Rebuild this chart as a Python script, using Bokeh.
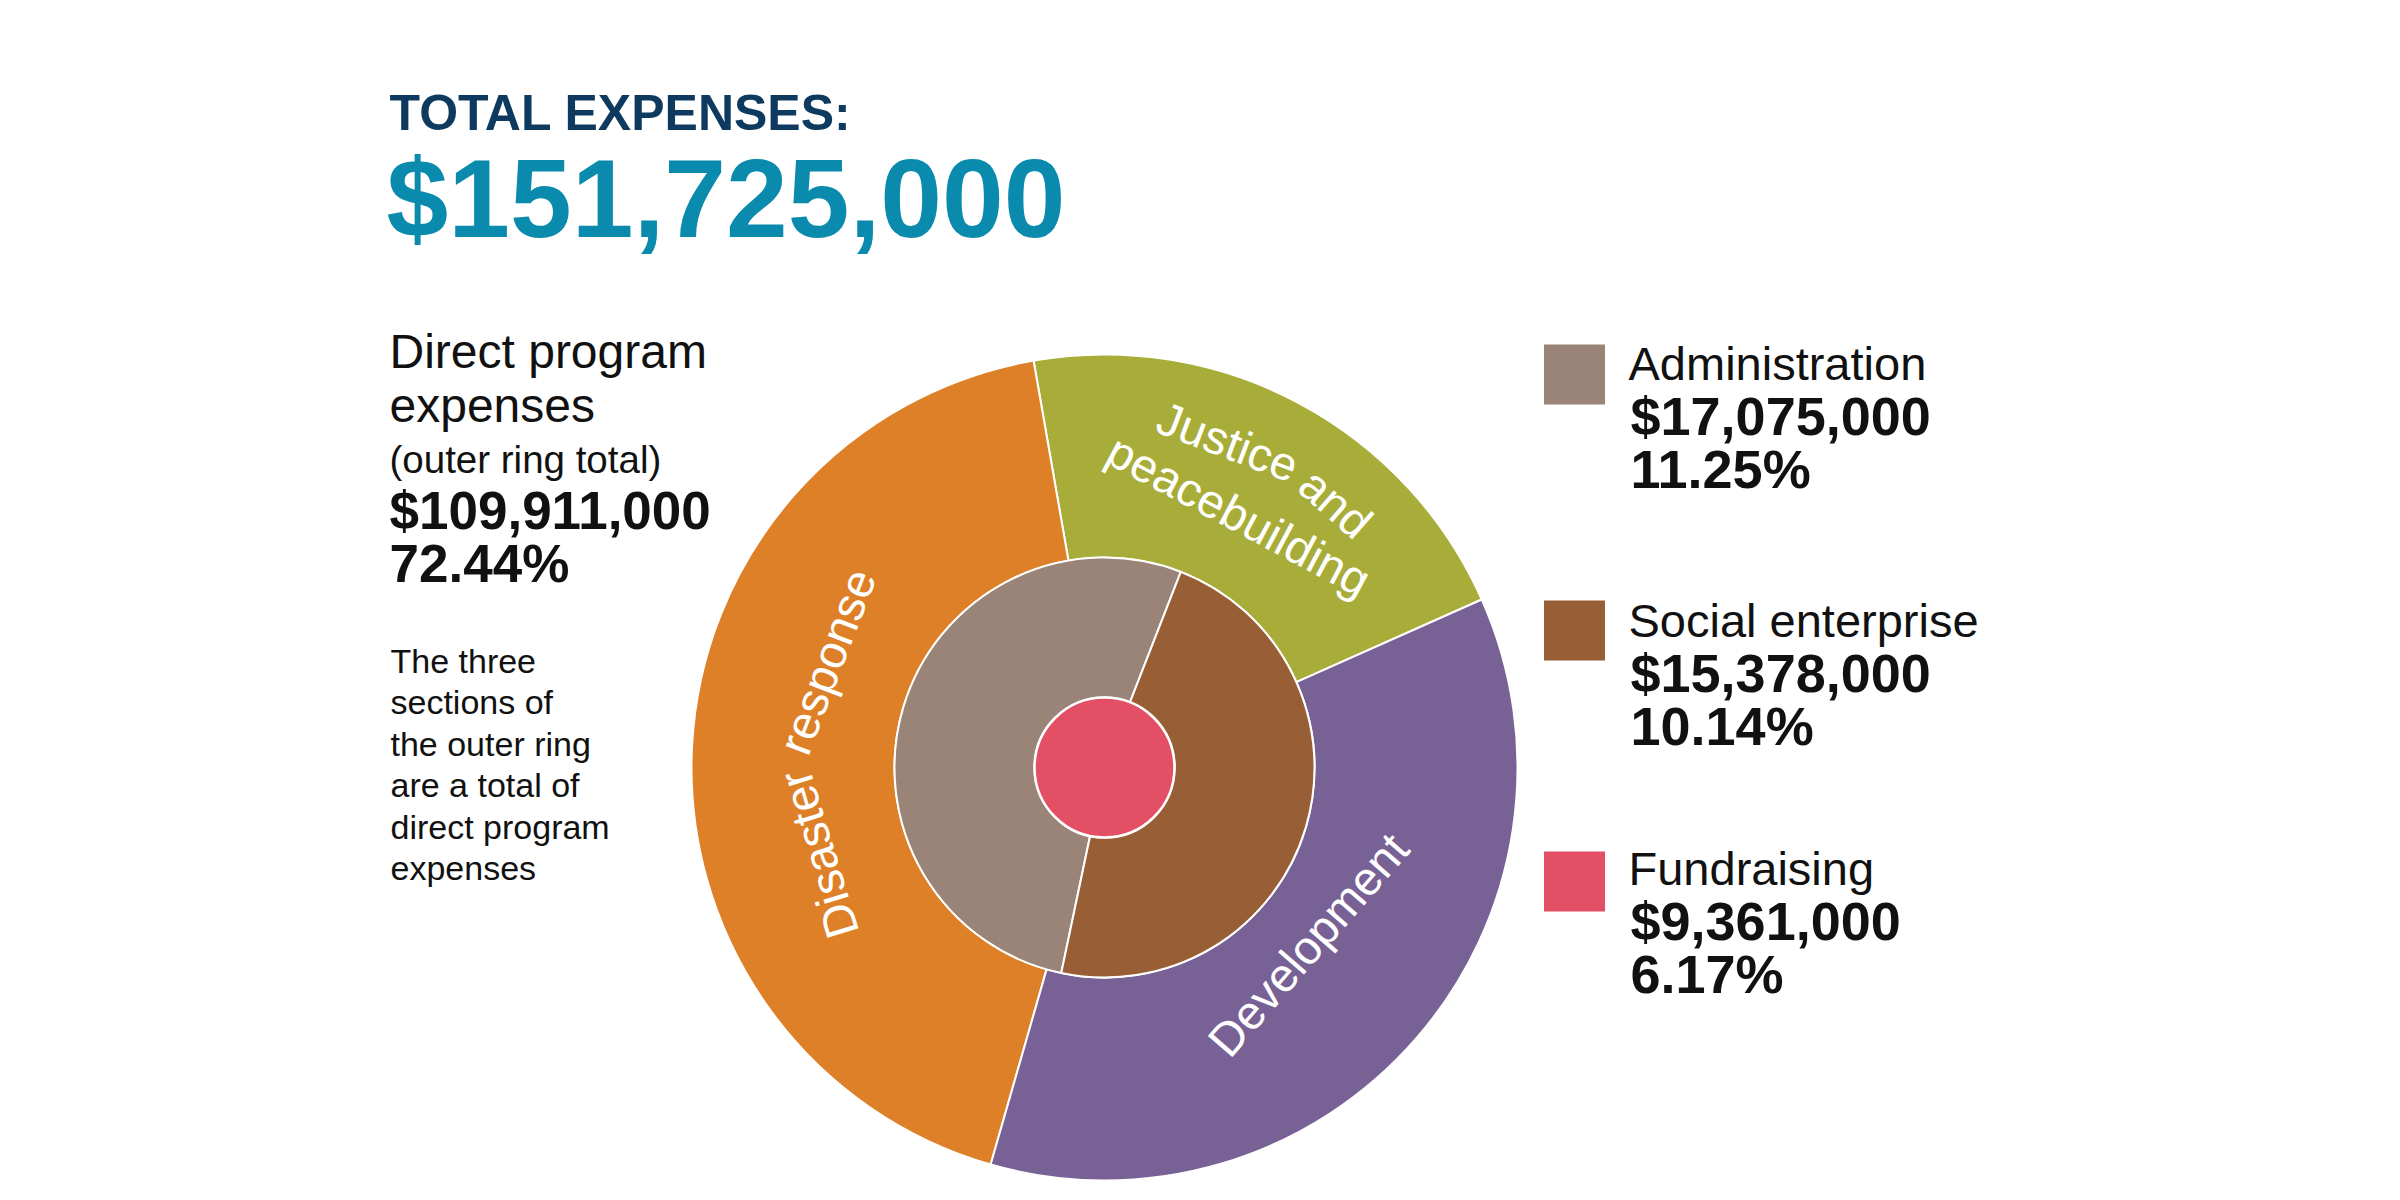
import math
from bokeh.plotting import figure
from bokeh.models import Range1d, ColumnDataSource
from bokeh.core.properties import value
from bokeh.embed import file_html
from bokeh.resources import INLINE

# ---------------- data ----------------
total_expenses = 151_725_000
direct_program_total = 109_911_000
direct_program_pct = 72.44

# outer ring: direct program expenses (split estimated from the ring's angles)
program_names = ["Justice and peacebuilding", "Disaster response", "Development"]
program_values = [23_170_000, 47_050_000, 39_691_000]
program_colors = ["#a8ad39", "#de8027", "#786295"]

# middle ring
support_names = ["Administration", "Social enterprise"]
support_values = [17_075_000, 15_378_000]
support_pcts = [11.25, 10.14]
support_colors = ["#9a8477", "#985f37"]

# centre
fund_name = "Fundraising"
fund_value = 9_361_000
fund_pct = 6.17
fund_color = "#e35065"

note_lines = ["The three", "sections of", "the outer ring", "are a total of",
              "direct program", "expenses"]

# ---------------- layout ----------------
W, H = 2400, 1200
CX, CY = 1104, H - 767
R_OUT, R_MID, R_CORE = 413, 210, 70
OUTER_START = math.radians(24.0)
INNER_START = math.radians(68.7)

SANS = "Liberation Sans"
NAVY = "#0d3a5e"
TEAL = "#0a8aad"
INK = "#111111"
BASE_FIX = 0.37  # renderer draws 'alphabetic' text this many em lower


def sy(y):
    return H - y


p = figure(width=W, height=H, x_range=Range1d(0, W), y_range=Range1d(0, H),
           min_border=0, toolbar_location=None, output_backend="svg",
           x_axis_location=None, y_axis_location=None)
p.grid.visible = False
p.outline_line_color = None
p.background_fill_color = "white"
p.border_fill_color = "white"


def wedges(values, start):
    tot = float(sum(values))
    starts, ends = [], []
    a = start
    for v in values:
        starts.append(a)
        a += 2 * math.pi * v / tot
        ends.append(a)
    return starts, ends


# outer ring
o_s, o_e = wedges(program_values, OUTER_START)
p.annular_wedge(x=CX, y=CY, inner_radius=R_MID, outer_radius=R_OUT,
                source=ColumnDataSource(dict(s=o_s, e=o_e, c=program_colors)),
                start_angle="s", end_angle="e", fill_color="c",
                line_color="white", line_width=2)

# middle ring
i_s, i_e = wedges(support_values, INNER_START)
p.annular_wedge(x=CX, y=CY, inner_radius=R_CORE, outer_radius=R_MID,
                source=ColumnDataSource(dict(s=i_s, e=i_e, c=support_colors)),
                start_angle="s", end_angle="e", fill_color="c",
                line_color="white", line_width=2)

# centre
p.circle(x=[CX], y=[CY], radius=R_CORE, fill_color=fund_color,
         line_color="white", line_width=2.5)

# ---------------- curved-ish ring labels (word by word) ----------------
CHAR_W = {' ': 278, 'a': 556, 'b': 556, 'c': 500, 'd': 556, 'e': 556, 'g': 556,
          'i': 222, 'l': 222, 'm': 833, 'n': 556, 'o': 556, 'p': 556, 'r': 333,
          's': 500, 't': 278, 'u': 556, 'v': 500, 'D': 722, 'J': 500}
LABEL_SIZE = 47
SPACE_K = 0.55
label_layout = {
    "Justice and peacebuilding": [("Justice and", 335), ("peacebuilding", 288)],
    "Disaster response": [("Disaster response", 288)],
    "Development": [("Development", 304)],
}


def tw(s):
    return sum(CHAR_W.get(ch, 556) for ch in s) / 1000.0 * LABEL_SIZE


lx, ly, lt, la = [], [], [], []
for name, s, e in zip(program_names, o_s, o_e):
    mid = (s + e) / 2.0
    md = math.degrees(mid) % 360
    ccw = 200 < md < 340  # bottom labels read anticlockwise, tops inward
    for line, r in label_layout[name]:
        words = line.split(" ")
        gap = tw(" ") * SPACE_K
        total = sum(tw(w) for w in words) + gap * (len(words) - 1)
        span = total / r
        cum = 0.0
        for w in words:
            ww = tw(w)
            sc = cum + ww / 2.0
            if ccw:
                th = mid - span / 2.0 + sc / r
                rot = th + math.pi / 2
            else:
                th = mid + span / 2.0 - sc / r
                rot = th - math.pi / 2
            sag = r - math.sqrt(max(r * r - (ww / 2.0) ** 2, 0))
            rr = r - sag / 2.0
            fix = BASE_FIX * LABEL_SIZE
            lx.append(CX + rr * math.cos(th) + fix * math.cos(rot + math.pi / 2))
            ly.append(CY + rr * math.sin(th) + fix * math.sin(rot + math.pi / 2))
            lt.append(w)
            la.append(rot)
            cum += ww + gap

p.text(x=lx, y=ly, text=lt, angle=la, text_font=value(SANS),
       text_font_size=f"{LABEL_SIZE}px", text_color="white",
       text_align="center", text_baseline="alphabetic")


# ---------------- texts ----------------
def put(x, y, txt, size, color=INK, bold=False, font=SANS):
    p.text(x=[x], y=[sy(y - BASE_FIX * size)], text=[txt], text_font=value(font),
           text_font_size=f"{size}px", text_color=color,
           text_font_style="bold" if bold else "normal",
           text_align="left", text_baseline="alphabetic")


put(389, 131, "TOTAL EXPENSES:", 50, NAVY, True)
put(386, 240, f"${total_expenses:,.0f}", 111, TEAL, True)

put(389, 369, "Direct program", 48)
put(389, 423, "expenses", 48)
put(389, 473, "(outer ring total)", 38.5)
put(389, 530, f"${direct_program_total:,.0f}", 53, INK, True)
put(389, 583, f"{direct_program_pct:.2f}%", 53, INK, True)
for k, ln in enumerate(note_lines):
    put(390, 673 + k * 41.4, ln, 34)

# legend
leg_names = support_names + [fund_name]
leg_values = support_values + [fund_value]
leg_pcts = support_pcts + [fund_pct]
leg_colors = support_colors + [fund_color]
leg_top = [344, 600, 851]
leg_base = [380, 637, 885]
p.rect(x=[1574] * 3, y=[sy(t + 30) for t in leg_top], width=61, height=60,
       fill_color=leg_colors, line_color=None)
for n, v, pc, b in zip(leg_names, leg_values, leg_pcts, leg_base):
    put(1628, b, n, 47)
    put(1630, b + 55, f"${v:,.0f}", 54, INK, True)
    put(1630, b + 108, f"{pc:.2f}%", 54, INK, True)

open("out.html", "w").write(file_html(p, INLINE))
